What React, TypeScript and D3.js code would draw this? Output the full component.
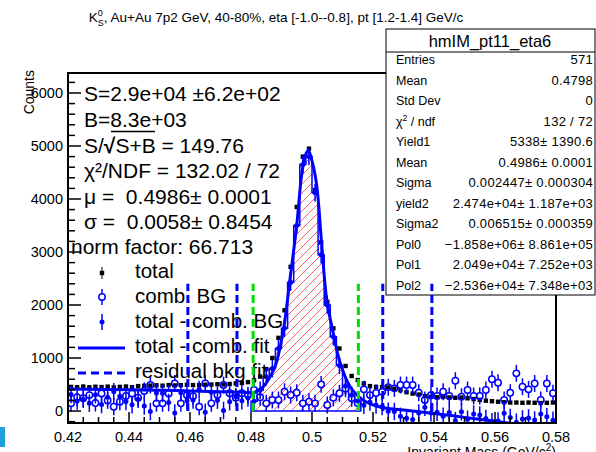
import * as d3 from "d3";

const W = 596;
const H = 452;
const FONT = "'Liberation Sans', Arial, Helvetica, sans-serif";

// 80 bins of 0.002 from 0.42 to 0.58
const binLo = 0.42;
const binW = 0.002;

const totalCounts = [
  455, 450, 462, 448, 458, 452, 460, 445, 455, 462,
  450, 470, 475, 480, 485, 478, 490, 482, 488, 495,
  490, 488, 495, 500, 505, 500, 510, 520, 530, 545,
  580, 650, 790, 1000, 1380, 1900, 2720, 3850, 4800, 4950,
  4170, 3180, 2060, 1560, 1180, 850, 660, 585, 520, 470,
  455, 450, 445, 420, 390, 355, 330, 310, 280, 265,
  260, 265, 255, 250, 255, 240, 225, 210, 195, 185,
  175, 165, 160, 160, 155, 160, 155, 150, 155, 160,
];

const combBG = [
  145, 260, 240, 300, 150, 330, 200, 80, 175, 283,
  330, 250, 380, 490, 145, 145, 330, 520, 145, 300,
  280, 80, 520, 145, 300, 490, 334, 250, 334, 300,
  396, 260, 145, 208, 208, 364, 302, 345, 145, 175,
  145, 503, 113, 250, 334, 420, 240, 145, 409, 300,
  340, 364, 450, 428, 490, 490, 490, 345, 208, 300,
  283, 364, 283, 572, 270, 396, 283, 283, 396, 598,
  534, 208, 345, 711, 458, 409, 520, 208, 520, 334,
];

const totalMinusComb = [
  310, 190, 222, 148, 308, 122, 260, 365, 280, 179,
  120, 220, 95, -10, 340, 333, 160, -38, 343, 195,
  210, 408, -25, 355, 205, 10, 176, 270, 196, 245,
  184, 390, 645, 800, 1180, 1560, 2430, 3500, 4650, 4800,
  4120, 2950, 2000, 1400, 860, 470, 300, 190, 111, 170,
  115, 86, -5, -8, -100, -135, -160, -35, 72, -35,
  -23, -99, -28, -180, -15, -156, -58, -73, -140, -200,
  -190, -43, -120, -210, -150, -130, -170, -58, -110, -174,
];

const totalErr = 25;
const combErr = 160;
const diffErr = 165;

// signal window (hatched) bins
const sigFirstBin = 30;
const sigLastBin = 47;

// fit "total - comb."
const fitCurve: [number, number][] = [
  [0.42, 415], [0.43, 408], [0.44, 400], [0.45, 392], [0.46, 380],
  [0.47, 365], [0.478, 352], [0.4807, 348], [0.4839, 453], [0.486, 620],
  [0.4879, 838], [0.4905, 1486], [0.4928, 2495], [0.495, 3510], [0.4966, 4450],
  [0.4978, 4820], [0.4988, 4914], [0.5, 4720], [0.5015, 4273], [0.5032, 3130],
  [0.5048, 2114], [0.5069, 1486], [0.5092, 914], [0.5125, 457], [0.5167, 210],
  [0.5223, 76], [0.53, 20], [0.54, -45], [0.55, -120], [0.56, -195],
  [0.567, -245], [0.572, -285],
];

const sideLines = [0.4593, 0.4754, 0.5232, 0.5393];
const signalLines = [0.4807, 0.5152];
const markerLineTop = 2400;

const xTicks = [0.42, 0.44, 0.46, 0.48, 0.5, 0.52, 0.54, 0.56, 0.58];
const xTickLabels = ["0.42", "0.44", "0.46", "0.48", "0.5", "0.52", "0.54", "0.56", "0.58"];
const yTicks = [0, 1000, 2000, 3000, 4000, 5000, 6000];

const statsRows: [string, string][] = [
  ["Entries", "571"],
  ["Mean", "0.4798"],
  ["Std Dev", "0"],
  ["CHI", "132 / 72"],
  ["Yield1", "5338\u00b1 1390.6"],
  ["Mean", "0.4986\u00b1 0.0001"],
  ["Sigma", "0.002447\u00b1 0.000304"],
  ["yield2", "2.474e+04\u00b1 1.187e+03"],
  ["Sigma2", "0.006515\u00b1 0.000359"],
  ["Pol0", "\u22121.858e+06\u00b1 8.861e+05"],
  ["Pol1", "2.049e+04\u00b1 7.252e+03"],
  ["Pol2", "\u22122.536e+04\u00b1 7.348e+03"],
];

const legendLabels = ["total", "comb. BG", "total - comb. BG", "total - comb. fit", "residual bkg fit"];

export default function App() {
  const x = d3.scaleLinear().domain([0.42, 0.58]).range([68, 556]);
  const y = d3.scaleLinear().domain([-226, 6377]).range([423, 73]);
  const [x0, x1] = x.range();
  const [yb, yt] = y.range();

  const centers = totalCounts.map((_, i) => binLo + binW * (i + 0.5));
  const inY = (v: number) => v >= -226 && v <= 6377;

  const line = d3
    .line<[number, number]>()
    .x((d) => x(d[0]))
    .y((d) => y(d[1]))
    .curve(d3.curveCatmullRom.alpha(0.5));

  // step outline of the signal window
  let step = `M${x(binLo + binW * sigFirstBin)},${y(0)}`;
  for (let i = sigFirstBin; i <= sigLastBin; i++) {
    step += `L${x(binLo + binW * i)},${y(totalMinusComb[i])}L${x(binLo + binW * (i + 1))},${y(totalMinusComb[i])}`;
  }
  step += `L${x(binLo + binW * (sigLastBin + 1))},${y(0)}Z`;

  const yMinor = d3.range(-200, 6377, 200).filter((v) => v % 1000 !== 0);
  const xMinor = d3.range(0.42, 0.5801, 0.005).filter((v) => Math.abs((v - 0.42) / 0.02 - Math.round((v - 0.42) / 0.02)) > 0.01);

  const blue = "#0000ff";
  const green = "#00e000";

  const info = [
    { x: 84, y: 101, t: "S=2.9e+04 \u00b16.2e+02" },
    { x: 84, y: 127, t: "B=8.3e+03" },
    { x: 84, y: 178, t: "\u03c7\u00b2/NDF = 132.02 / 72" },
    { x: 84, y: 204, t: "\u03bc =  0.4986\u00b1 0.0001" },
    { x: 84, y: 229, t: "\u03c3 =  0.0058\u00b1 0.8454" },
    { x: 71, y: 254, t: "norm factor: 66.713" },
  ];

  return (
    <svg width={W} height={H} style={{ position: "absolute", left: 0, top: 0, background: "#fff" }} fontFamily={FONT}>
      <defs>
        <clipPath id="frame">
          <rect x={x0} y={yt} width={x1 - x0} height={yb - yt} />
        </clipPath>
        <pattern id="hatch" patternUnits="userSpaceOnUse" width={9} height={9}>
          <path d="M-2,2L2,-2M0,9L9,0M7,11L11,7" stroke="#ff6060" strokeWidth={1} />
        </pattern>
      </defs>
      <rect width={W} height={H} fill="#fff" />

      {/* title */}
      <text x={276} y={22} fontSize={13.5} textAnchor="middle">
        K<tspan fontSize={9} dy={-6}>0</tspan>
        <tspan fontSize={9} dx={-5} dy={10}>S</tspan>
        <tspan dy={-4}>, Au+Au 7p2 GeV, 40-80%, eta [-1.0--0.8], pt [1.2-1.4] GeV/c</tspan>
      </text>

      <g clipPath="url(#frame)">
        {/* hatched signal histogram */}
        <path d={step} fill="url(#hatch)" stroke={blue} strokeWidth={1.5} />

        {/* total */}
        {centers.map((c, i) => (
          <g key={"t" + i}>
            <line x1={x(c)} x2={x(c)} y1={y(totalCounts[i] - totalErr)} y2={y(totalCounts[i] + totalErr)} stroke="#000" />
            <rect x={x(c) - 2.2} y={y(totalCounts[i]) - 2.2} width={4.4} height={4.4} fill="#000" />
          </g>
        ))}

        {/* comb BG */}
        {centers.map((c, i) =>
          inY(combBG[i]) ? (
            <g key={"c" + i}>
              <line x1={x(c)} x2={x(c)} y1={y(combBG[i] - combErr)} y2={y(combBG[i]) + 3.3} stroke={blue} strokeWidth={1.5} />
              <line x1={x(c)} x2={x(c)} y1={y(combBG[i]) - 3.3} y2={y(combBG[i] + combErr)} stroke={blue} strokeWidth={1.5} />
              <circle cx={x(c)} cy={y(combBG[i])} r={3.2} fill="none" stroke={blue} strokeWidth={1.5} />
            </g>
          ) : null
        )}

        {/* total - comb BG */}
        {centers.map((c, i) =>
          inY(totalMinusComb[i]) ? (
            <g key={"d" + i}>
              <line x1={x(c)} x2={x(c)} y1={y(totalMinusComb[i] - diffErr)} y2={y(totalMinusComb[i] + diffErr)} stroke={blue} strokeWidth={1.5} />
              <circle cx={x(c)} cy={y(totalMinusComb[i])} r={2.5} fill={blue} />
            </g>
          ) : null
        )}

        {/* fit */}
        <path d={line(fitCurve) ?? ""} fill="none" stroke={blue} strokeWidth={3} />
      </g>

      {/* info text */}
      {info.map((d, i) => (
        <text key={"i" + i} x={d.x} y={d.y} fontSize={21} style={{ whiteSpace: "pre" }}>{d.t}</text>
      ))}
      <text x={84} y={153} fontSize={21}>
        S/<tspan fontWeight="bold">{"\u221a"}</tspan>S+B = 149.76
      </text>
      <line x1={111} x2={155} y1={131.5} y2={131.5} stroke="#000" strokeWidth={1.5} />

      {/* legend */}
      {legendLabels.map((t, i) => (
        <text key={"l" + i} x={135} y={278 + i * 25} fontSize={20.5}>{t}</text>
      ))}
      <line x1={102} x2={102} y1={267} y2={279} stroke="#000" />
      <rect x={99.8} y={270.8} width={4.4} height={4.4} fill="#000" />
      <line x1={102} x2={102} y1={289} y2={293} stroke={blue} strokeWidth={1.5} />
      <line x1={102} x2={102} y1={300} y2={305} stroke={blue} strokeWidth={1.5} />
      <circle cx={102} cy={297} r={3.2} fill="none" stroke={blue} strokeWidth={1.5} />
      <line x1={102} x2={102} y1={314} y2={330} stroke={blue} strokeWidth={1.5} />
      <circle cx={102} cy={322} r={2.5} fill={blue} />
      <line x1={78} x2={125} y1={348} y2={348} stroke={blue} strokeWidth={3} />
      <line x1={78} x2={125} y1={373} y2={373} stroke={blue} strokeWidth={3} strokeDasharray="8,5" />

      {/* frame */}
      <rect x={x0} y={yt} width={x1 - x0} height={yb - yt} fill="none" stroke="#000" strokeWidth={2} />

      {/* y axis */}
      {yTicks.map((v) => (
        <g key={"yt" + v}>
          <line x1={x0} x2={x0 + 13} y1={y(v)} y2={y(v)} stroke="#000" strokeWidth={1.5} />
          <text x={63} y={y(v) + 5} fontSize={14.5} textAnchor="end">{v}</text>
        </g>
      ))}
      {yMinor.map((v) => (
        <line key={"ym" + v} x1={x0} x2={x0 + 7} y1={y(v)} y2={y(v)} stroke="#000" strokeWidth={1.5} />
      ))}
      <text transform={`translate(34,70) rotate(-90)`} fontSize={14} textAnchor="end">Counts</text>

      {/* x axis */}
      {xTicks.map((v, i) => (
        <g key={"xt" + v}>
          <line x1={x(v)} x2={x(v)} y1={yb} y2={yb - 11} stroke="#000" strokeWidth={1.5} />
          <text x={x(v)} y={442} fontSize={14.5} textAnchor="middle">{xTickLabels[i]}</text>
        </g>
      ))}
      {xMinor.map((v) => (
        <line key={"xm" + v} x1={x(v)} x2={x(v)} y1={yb} y2={yb - 6} stroke="#000" strokeWidth={1.5} />
      ))}
      <text x={556} y={457} fontSize={14} textAnchor="end">
        Invariant Mass (GeV/c<tspan fontSize={10} dy={-6}>2</tspan><tspan dy={6}>)</tspan>
      </text>

      {/* stats box */}
      <rect x={386} y={29} width={209} height={266} fill="#fff" stroke="#000" strokeWidth={1} />
      <line x1={386} x2={595} y1={52} y2={52} stroke="#000" />
      <text x={490} y={47} fontSize={16.5} textAnchor="middle">hmIM_pt11_eta6</text>
      {statsRows.map(([k, v], i) => (
        <g key={"s" + i}>
          {k === "CHI" ? (
            <text x={396} y={64 + i * 20.5} fontSize={12.5}>
              {"\u03c7"}<tspan fontSize={8.5} dy={-5}>2</tspan><tspan dy={5}> / ndf</tspan>
            </text>
          ) : (
            <text x={396} y={64 + i * 20.5} fontSize={12.5}>{k}</text>
          )}
          <text x={593} y={64 + i * 20.5} fontSize={13} textAnchor="end" letterSpacing={0.3}>{v}</text>
        </g>
      ))}

      {/* sideband / signal window markers */}
      {sideLines.map((v) => (
        <line key={"sb" + v} x1={x(v)} x2={x(v)} y1={y(0)} y2={y(markerLineTop)} stroke={blue} strokeWidth={3} strokeDasharray="8,4" />
      ))}
      {signalLines.map((v) => (
        <line key={"sl" + v} x1={x(v)} x2={x(v)} y1={y(0)} y2={y(markerLineTop)} stroke={green} strokeWidth={3} strokeDasharray="8,4" />
      ))}

      <rect x={0} y={427} width={5} height={20} fill="#1fa0dc" />
    </svg>
  );
}
